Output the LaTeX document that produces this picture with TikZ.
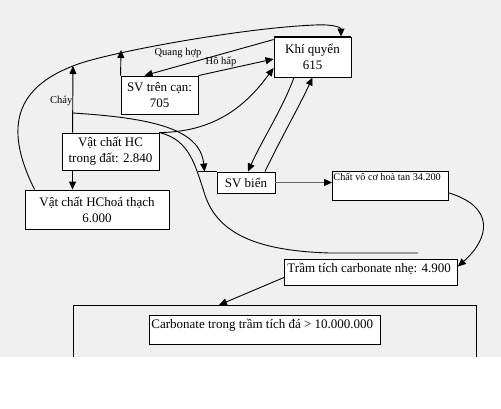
\documentclass[tikz,border=0pt]{standalone}
\usepackage{fontspec}
\setmainfont{Liberation Serif}
\usetikzlibrary{arrows.meta}
\definecolor{gbg}{RGB}{240,240,240}
\begin{document}
\begin{tikzpicture}[x=1pt,y=-1pt,
  box/.style={draw=black, fill=white, line width=0.9pt, inner sep=0pt, align=center, font=\fontsize{13}{16}\selectfont},
  arr/.style={-{Triangle[length=8pt,width=7pt]}, line width=0.9pt, black},
  arrg/.style={-{Triangle[length=8pt,width=7pt,black]}, line width=0.9pt, draw=gray!80!black},
  lbl/.style={font=\fontsize{10.5}{12}\selectfont, inner sep=0pt},
  ln/.style={line width=0.9pt, black}
]
\useasboundingbox (0,0) rectangle (501,408);
\fill[gbg] (0,0) rectangle (501,357);
% big box (bottom cut off by the white area)
\node[draw, line width=0.9pt, anchor=north west, minimum width=403pt, minimum height=80pt, inner sep=0pt] (big) at (73,305) {};
\fill[white] (0,357) rectangle (501,408);

% nodes
\node[box, minimum width=77pt, minimum height=40pt] (kq) at (312.5,57) {Khí quyển\\615};
\draw[line width=2pt] (kq.north west) -- (kq.north east);
\node[box, minimum width=77pt, minimum height=38pt] (svtc) at (159.5,95) {SV trên cạn:\\705};
\node[box, minimum width=97pt, minimum height=37pt] (hc) at (110.5,151.5) {Vật chất HC\\trong đất: 2.840};
\node[box, minimum width=144pt, minimum height=39pt] (ft) at (97,209.5) {Vật chất HChoá thạch\\6.000};
\node[box, minimum width=58pt, minimum height=21pt] (svb) at (246,182.5) {SV biển};
\node[box, anchor=north west] (cv) at (332,171) {\parbox[t][29pt][t]{116pt}{\fontsize{10.2}{12}\selectfont\hspace{1pt}\rule{0pt}{9pt}Chất vô cơ hoà tan 34.200}};
\node[box, anchor=north west] (tt) at (284,259) {\parbox[t][26pt][t]{173pt}{\hspace{3pt}\rule{0pt}{13pt}Trầm tích carbonate nhẹ: 4.900}};
\node[box, anchor=north west] (cb) at (149,315) {\parbox[t][29pt][t]{231pt}{\hspace{2pt}\rule{0pt}{13pt}Carbonate trong trầm tích đá > 10.000.000}};

% labels
\node[lbl, anchor=east] (lc) at (72.5,101) {Cháy};
\node[lbl] (lq) at (178,53) {Quang hợp};
\node[lbl] (lh) at (221,62) {Hô hấp};

% coordinates
\coordinate (chay) at (73,66);
\coordinate (up2) at (121,50);
\coordinate (cj) at (73,113);
\coordinate (bend) at (418,253);

% connectors
\draw[arr] ([xshift=11pt]hc.north west) -- (chay);
\draw[arr] ([xshift=11pt]hc.south west) -- ([xshift=11pt]hc.south west |- ft.north);
\draw[arr] (svtc.north west) -- (up2);
\draw[arr] ([xshift=10pt]ft.north west) .. controls (10,140) and (5,92) .. (73,66)
   .. controls (100,54) and (240,28) .. (315,25) .. controls (335,24) and (341,28) .. ([xshift=28.5pt]kq.north);
\draw[arr] ([yshift=-3pt]kq.north west) -- ([xshift=24pt]svtc.north west);
\draw[arr] (svtc.north east) -- ([yshift=-2pt]kq.west);
\draw[arr] (hc.north east) .. controls (220,132) and (250,100) .. ([yshift=-11pt]kq.west);
\draw[ln] (svb.north west) -- ++(-19,0);
\draw[arr] (cj) .. controls (150,118) and (200,128) .. ([xshift=-12pt]svb.north west);
\draw[ln] (hc.north east) .. controls (190,140) and (195,165) .. (205,195)
   .. controls (218,235) and (260,251) .. (330,253) -- (bend);
\draw[arr] ([xshift=-18.5pt]kq.south) .. controls (282,110) and (262,140) .. ([xshift=2pt]svb.north);
\draw[arr] ([xshift=19pt]svb.north) .. controls (280,140) and (300,105) .. (kq.south);
\draw[arrg] (svb.east) -- (cv.west |- svb.east);
\draw[arr] ([yshift=8pt]cv.south east) .. controls (495,207) and (490,238) .. ([yshift=6pt]tt.east);
\draw[arr] ([yshift=-5pt]tt.west) -- ([xshift=146pt]big.north west);
\end{tikzpicture}
\end{document}
